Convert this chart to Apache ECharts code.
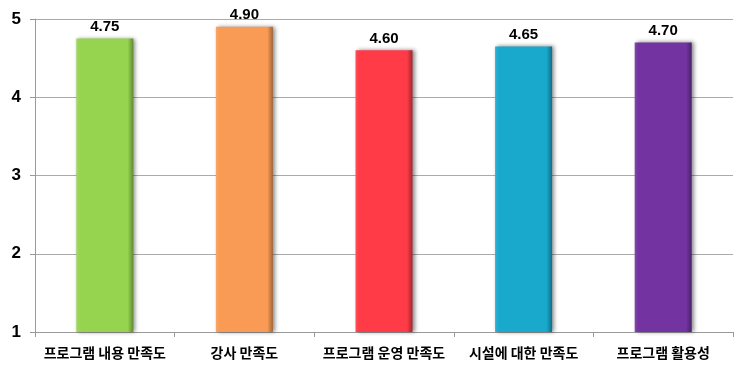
<!DOCTYPE html>
<html><head><meta charset="utf-8">
<script src="https://cdn.jsdelivr.net/npm/echarts@6/dist/echarts.min.js"></script>
<style>html,body{margin:0;padding:0;background:#fff}#c{width:738px;height:375px}</style>
</head><body><div id="c"></div>
<script>
const categories = ['프로그램 내용 만족도','강사 만족도','프로그램 운영 만족도','시설에 대한 만족도','프로그램 활용성'];
const values = [4.75, 4.90, 4.60, 4.65, 4.70];
const colors = ['#96D450','#F99B55','#FF3B47','#18A9CD','#7333A1'];
const yTicks = [1,2,3,4,5];

const chart = echarts.init(document.getElementById('c'));
function shade(hex, f){
  const n=parseInt(hex.slice(1),16);let r=n>>16,g=(n>>8)&255,b=n&255;
  const m=v=>Math.max(0,Math.min(255,Math.round(f<0?v*(1+f):v+(255-v)*f)));
  return 'rgb('+m(r)+','+m(g)+','+m(b)+')';
}
chart.setOption({
  animation:false,
  grid:{left:35,right:5,top:19,bottom:43},
  xAxis:{type:'category',data:categories,
    axisLine:{lineStyle:{color:'#999'}},
    axisTick:{show:true,length:5,lineStyle:{color:'#999'}},
    axisLabel:{interval:0,color:'#000',fontWeight:'bold',fontSize:14,margin:14,fontFamily:'Noto Sans CJK KR'}},
  yAxis:{type:'value',min:yTicks[0],max:yTicks[yTicks.length-1],interval:1,
    axisLine:{show:true,lineStyle:{color:'#999'}},
    axisTick:{show:true,length:5,lineStyle:{color:'#999'}},
    splitLine:{lineStyle:{color:'#aaa'}},
    axisLabel:{color:'#000',fontWeight:'bold',fontSize:17,margin:14,fontFamily:'Liberation Sans'}},
  series:[{type:'bar',barWidth:57,
    data:values.map((v,i)=>({value:v,itemStyle:{
      color:{type:'linear',x:0,y:0,x2:1,y2:0,colorStops:[
        {offset:0,color:shade(colors[i],0.1)},{offset:0.06,color:colors[i]},
        {offset:0.9,color:colors[i]},{offset:1,color:shade(colors[i],-0.35)}]},
      shadowColor:'rgba(0,0,0,0.45)',shadowBlur:4,shadowOffsetX:2,shadowOffsetY:0}})),
    label:{show:true,position:'top',distance:4,color:'#000',fontWeight:'bold',fontSize:15,
      fontFamily:'Liberation Sans',formatter:p=>p.value.toFixed(2)}}]
});
</script></body></html>
